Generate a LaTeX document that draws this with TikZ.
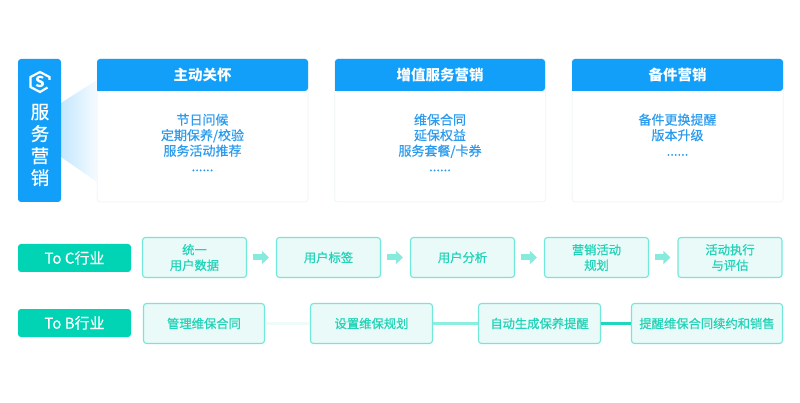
\documentclass[tikz,border=0pt]{standalone}
\usepackage{fontspec}
\setmainfont{Noto Sans CJK SC}
\newfontfamily\medfont[FakeBold=0.35]{Noto Sans CJK SC}
\newfontfamily\semifont[FakeBold=0.7]{Noto Sans CJK SC}
\usetikzlibrary{arrows.meta,calc,positioning}
\definecolor{svcblue}{HTML}{129FFA}
\definecolor{svctext}{HTML}{2A9BEE}
\definecolor{cardline}{HTML}{F2F7F8}
\definecolor{tealfill}{HTML}{00D4B4}
\definecolor{tealtext}{HTML}{22D3B8}
\definecolor{boxfill}{HTML}{E9FAF8}
\definecolor{boxline}{HTML}{72E8D8}
\definecolor{arrfill}{HTML}{86EBDC}
\definecolor{linkfaint}{HTML}{EFFBF9}
\definecolor{linkmid}{HTML}{8CEEDF}
\definecolor{linkstrong}{HTML}{1FD8BC}
\newcommand{\arrtip}{Triangle[length=7pt,width=13pt]}
\tikzset{
  card/.style={draw=cardline,line width=1pt,fill=white,rounded corners=3pt,minimum width=211pt,minimum height=143pt,inner sep=0pt},
  head/.style={text=white,font=\fontsize{14.5}{16}\selectfont\bfseries,inner sep=0pt},
  body/.style={text=svctext,align=center,anchor=north,inner sep=0pt,font=\fontsize{13}{15.5}\selectfont\medfont},
  tag/.style={fill=tealfill,text=white,rounded corners=3pt,minimum width=113pt,minimum height=28pt,inner sep=0pt,font=\fontsize{15}{16}\selectfont\medfont},
  step box/.style={draw=boxline,fill=boxfill,line width=1.1pt,rounded corners=3pt,minimum height=40pt,inner sep=0pt,align=center,text=tealtext,font=\fontsize{12.3}{15.5}\selectfont\semifont},
  flow/.style={draw=arrfill,line width=6pt,-{\arrtip},shorten <=6pt,shorten >=7pt},
  link/.style={line width=2.4pt},
}
\begin{document}
\begin{tikzpicture}[x=1pt,y=-1pt]
\useasboundingbox (0,0) rectangle (800,403);
\newcommand*{\cy}{130.5}; \newcommand*{\hy}{75};
\newcommand*{\ry}{257.5}; \newcommand*{\sy}{323.5};
% left column
\coordinate (fa) at (61,103);
\coordinate (fb) at (97,80);
\coordinate (fc) at (97,182);
\coordinate (fd) at (61,157);
\shade[left color=svcblue!25,right color=svcblue!4] (fa) -- (fb) -- (fc) -- (fd) -- cycle;
\node[fill=svcblue,rounded corners=3pt,minimum width=43pt,minimum height=143pt,inner sep=0pt] (svc) at (39.5,130.5) {};
\draw[white,line width=2.2pt] (47.5,87.5) -- (40,92) -- (30.5,87) -- (30.5,77) -- (40,72) -- (49.5,77) -- (49.5,80);
\node[text=white,inner sep=0pt,font=\fontsize{15}{15}\selectfont\bfseries] (logo) at (40,82) {S};
\node[text=white,inner sep=0pt,align=center,font=\fontsize{18.5}{22}\selectfont\semifont] (svcname) at (40,145) {服\\务\\营\\销};
% cards
\node[card] (ca) at (202.5,\cy) {};
\node[card] (cb) at (440,\cy) {};
\node[card] (cc) at (677.5,\cy) {};
\fill[svcblue,rounded corners=3pt] (97,91) -- (97,59) -- (308,59) -- (308,91) [sharp corners] -- cycle;
\fill[svcblue,rounded corners=3pt] (335,91) -- (335,59) -- (545,59) -- (545,91) [sharp corners] -- cycle;
\fill[svcblue,rounded corners=3pt] (572,91) -- (572,59) -- (783,59) -- (783,91) [sharp corners] -- cycle;
\node[head] (ha) at (202.5,\hy) {主动关怀};
\node[head] (hb) at (440,\hy) {增值服务营销};
\node[head] (hc) at (677.5,\hy) {备件营销};
\node[body] (ba) at (202.5,113.5) {节日问候\\定期保养/校验\\服务活动推荐\\......};
\node[body] (bb) at (440,113.5) {维保合同\\延保权益\\服务套餐/卡券\\......};
\node[body] (bc) at (677.5,113.5) {备件更换提醒\\版本升级\\......};
% to C row
\node[tag] (tc) at (74.5,258) {To C行业};
\node[step box,minimum width=104pt] (ra) at (194.5,\ry) {统一\\用户数据};
\node[step box,minimum width=104pt] (rb) at (328.5,\ry) {用户标签};
\node[step box,minimum width=104pt] (rc) at (462.5,\ry) {用户分析};
\node[step box,minimum width=104pt] (rd) at (596.5,\ry) {营销活动\\规划};
\node[step box,minimum width=104pt] (re) at (730,\ry) {活动执行\\与评估};
\draw[flow] (ra) -- (rb);
\draw[flow] (rb) -- (rc);
\draw[flow] (rc) -- (rd);
\draw[flow] (rd) -- (re);
% to B row
\node[tag] (tb) at (74.5,323) {To B行业};
\node[step box,minimum width=121pt] (sa) at (204,\sy) {管理维保合同};
\node[step box,minimum width=122pt] (sb) at (371.5,\sy) {设置维保规划};
\node[step box,minimum width=122pt] (sc) at (539.5,\sy) {自动生成保养提醒};
\node[step box,minimum width=151pt] (sd) at (707,\sy) {提醒维保合同续约和销售};
\draw[link,draw=linkfaint] (sa) -- (sb);
\draw[link,draw=linkmid] (sb) -- (sc);
\draw[link,draw=linkstrong] (sc) -- (sd);
\end{tikzpicture}
\end{document}
